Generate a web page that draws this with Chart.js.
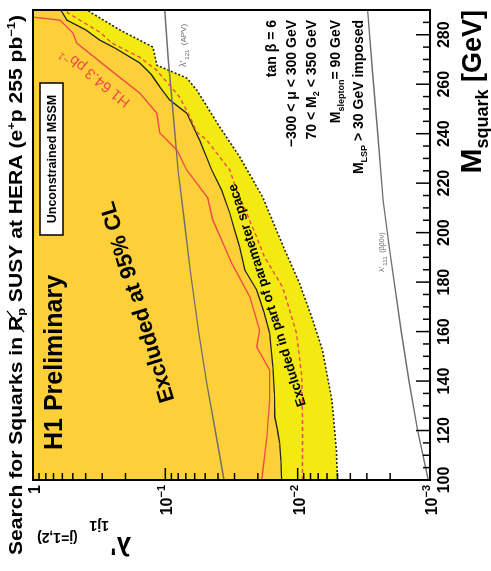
<!DOCTYPE html>
<html>
<head>
<meta charset="utf-8">
<script src="https://cdn.jsdelivr.net/npm/chart.js@4.4.1/dist/chart.umd.min.js"></script>
<style>
  html, body { margin: 0; padding: 0; background: #fff; overflow: hidden; }
  #wrap { position: relative; width: 491px; height: 571px; }
  /* the plot is drawn upright, then turned a quarter turn like the scan */
  #chart { position: absolute; left: 0; top: 0; transform-origin: 0 0; transform: translate(0, 571px) rotate(-90deg); }
</style>
</head>
<body>
<div id="wrap"><canvas id="chart" width="571" height="491"></canvas></div>
<script>
// squark mass axis (GeV) and lambda' axis
const massTicks = [100, 120, 140, 160, 180, 200, 220, 240, 260, 280];
const lambdaTicks = [0.001, 0.01, 0.1, 1];
const lambdaTickLabels = [['10', '−3'], ['10', '−2'], ['10', '−1'], ['1', '']];

// excluded in part of parameter space (dotted edge of yellow band)
const partialMass = [100, 112, 132, 152.5, 164.7, 179.6, 194.2, 214.4, 230.6, 242.7, 257.6, 262.5, 267.7, 275, 281.9, 289.2, 290];
const partialLambda = [0.0050, 0.0051, 0.0055, 0.0065, 0.0077, 0.0097, 0.0128, 0.0184, 0.0274, 0.0388, 0.0578, 0.0689, 0.116, 0.124, 0.220, 0.371, 0.384];

// excluded at 95% CL for the whole scan (solid black edge of orange)
const fullMass = [100, 108, 115, 120, 125.5, 135, 145.7, 152, 159.4, 168, 176.8, 184.9, 194.2, 201, 207.9, 217.2, 225.3, 237.4, 248.3, 253.6, 258.9, 264, 268.6, 274.6, 277.8, 282, 285.9, 289.2, 290];
const fullLambda = [0.0132, 0.0134, 0.0137, 0.0142, 0.0149, 0.0150, 0.0154, 0.0158, 0.0163, 0.0180, 0.0204, 0.0251, 0.0274, 0.0299, 0.0326, 0.0375, 0.0446, 0.055, 0.0689, 0.0925, 0.110, 0.128, 0.156, 0.240, 0.312, 0.40, 0.554, 0.604, 0.62];

// red dashed
const expMass = [100, 125.5, 141.6, 159.4, 178, 190.1, 198.2, 207.9, 217.2, 225.3, 237.4, 240.7, 246.7, 254.8, 265.6, 270.9, 276.6, 281, 288.8, 290];
const expLambda = [0.0092, 0.0092, 0.0093, 0.0102, 0.0130, 0.0178, 0.0204, 0.0243, 0.0289, 0.0326, 0.0486, 0.058, 0.065, 0.078, 0.116, 0.156, 0.253, 0.312, 0.545, 0.56];

// H1 64.3 pb-1 limit (red solid)
const oldMass = [100, 117.4, 132.3, 144.5, 153.8, 160.6, 174, 187.7, 197, 205.1, 214, 225.3, 233.4, 240.3, 248.3, 256.4, 266.9, 276.6, 280.7, 285.9, 287.1];
const oldLambda = [0.0187, 0.0171, 0.0163, 0.0163, 0.0204, 0.0194, 0.0230, 0.0315, 0.0375, 0.0438, 0.0478, 0.0689, 0.0819, 0.110, 0.116, 0.156, 0.277, 0.466, 0.499, 0.625, 1.0];

// indirect limits (grey)
const apvMass = [100, 120, 140, 160, 185, 205, 225, 250, 270, 290];
const apvLambda = [0.036, 0.042, 0.049, 0.056, 0.065, 0.072, 0.080, 0.088, 0.095, 0.101];
const bbMass = [100, 120, 140, 160, 193, 213, 240, 265, 290];
const bbLambda = [0.00103, 0.00124, 0.00144, 0.00165, 0.00202, 0.00226, 0.00248, 0.00272, 0.00296];

const pts = (ms, ls) => ms.map((m, i) => ({ x: m, y: ls[i] }));

// draws a row of text pieces: [text, size, dy, weight, colour]
// fit: optional width the row is stretched to
function rich(ctx, parts, x, y, angle, align, colour, fit) {
    ctx.save();
    ctx.translate(x, y);
    ctx.rotate(angle * Math.PI / 180);
    ctx.textAlign = 'left';
    ctx.textBaseline = 'alphabetic';
    const font = p => (p[3] || 'bold') + ' ' + p[1] + 'px "Liberation Sans", Arial, sans-serif';
    let w = 0;
    parts.forEach(p => { ctx.font = font(p); w += ctx.measureText(p[0]).width; });
    let sx = 1;
    if (fit) { sx = fit / w; ctx.scale(sx, 1); }
    let cx = align === 'right' ? -w : align === 'center' ? -w / 2 : 0;
    const spots = [];
    parts.forEach(p => {
        ctx.font = font(p);
        ctx.fillStyle = p[4] || colour || '#000';
        ctx.fillText(p[0], cx, p[2] || 0);
        const pw = ctx.measureText(p[0]).width;
        spots.push({ x: cx * sx, w: pw * sx });
        cx += pw;
    });
    ctx.restore();
    return spots;
}

const decor = {
    id: 'decor',
    afterDatasetsDraw(chart) {
        const { ctx, chartArea: a, scales: { x, y } } = chart;
        ctx.save();
        ctx.strokeStyle = '#000';
        ctx.lineWidth = 1.5;

        // mass ticks, pointing in
        for (let m = 100; m < 290; m += 5) {
            const px = x.getPixelForValue(m);
            const len = massTicks.includes(m) ? 14 : 7;
            ctx.beginPath(); ctx.moveTo(px, a.bottom); ctx.lineTo(px, a.bottom - len); ctx.stroke();
        }
        // lambda ticks, pointing in
        lambdaTicks.forEach((d, i) => {
            const py = y.getPixelForValue(d);
            ctx.beginPath(); ctx.moveTo(a.left, py); ctx.lineTo(a.left + 12, py); ctx.stroke();
            if (i < lambdaTicks.length - 1) {
                for (let k = 2; k <= 9; k++) {
                    const pk = y.getPixelForValue(k * d);
                    ctx.beginPath(); ctx.moveTo(a.left, pk); ctx.lineTo(a.left + 7, pk); ctx.stroke();
                }
            }
        });
        ctx.lineWidth = 2;
        ctx.strokeRect(a.left, a.top, a.right - a.left, a.bottom - a.top);

        // tick labels
        ctx.fillStyle = '#000';
        ctx.font = 'bold 16px "Liberation Sans", Arial, sans-serif';
        ctx.textAlign = 'center';
        massTicks.forEach(m => ctx.fillText(String(m), x.getPixelForValue(m), a.bottom + 19));
        lambdaTicks.forEach((d, i) => {
            const [base, sup] = lambdaTickLabels[i];
            rich(ctx, [[base, 16, 0], [sup, 11, -7]], a.left - 5, y.getPixelForValue(d) + 7, 0, 'right');
        });

        // axis titles
        rich(ctx, [['M', 30, 0], ['squark', 18, 7], [' [GeV]', 27, 0]], a.right, 481, 0, 'right');
        rich(ctx, [["λ'", 26, 0], [' ', 5, 0], ['1j1', 14, 16], ['   ', 14, 0], ['(j=1,2)', 14, 4]], 34, 131, -90, 'left');

        // title
        const t = rich(ctx, [['Search for Squarks in ', 18, 0], ['R', 18, 0], ['p', 11, 3], [' SUSY at HERA (e', 18, 0], ['+', 11, -7], ['p 255 pb', 18, 0], ['−1', 11, -7], [')', 18, 0]], 286, 22, 0, 'center', null, 540);
        ctx.lineWidth = 1.3;
        ctx.beginPath();
        ctx.moveTo(286 + t[1].x - 1, 24); ctx.lineTo(286 + t[1].x + t[1].w + 5, 7);
        ctx.stroke();

        // annotations
        rich(ctx, [['H1 Preliminary', 25, 0]], 121, 62, 0, 'left');
        ctx.lineWidth = 1.5;
        ctx.fillStyle = '#fff';
        ctx.fillRect(336, 40, 152, 23);
        ctx.strokeRect(336, 40, 152, 23);
        rich(ctx, [['Unconstrained MSSM', 12.5, 0]], 412, 56, 0, 'center');
        rich(ctx, [['Excluded at 95% CL', 22, 0]], 271, 144, -17, 'center');
        rich(ctx, [['Excluded in part of parameter space', 13.5, 0]], 277, 271, -17.5, 'center');
        rich(ctx, [['H1 64.3 pb', 15, 0, 'normal'], ['−1', 10, -6, 'normal']], 497, 98, -51, 'center', '#f04b4b');
        rich(ctx, [["λ'", 9, 0, 'normal'], [' ', 4, 0], ['121', 6, 3, 'normal'], ['  (APV)', 8, 0, 'normal']], 504, 186, 0, 'left', '#6e6e6e');
        rich(ctx, [["λ'", 8, 0, 'normal'], [' ', 3, 0], ['111', 6, 3, 'normal'], ['  (ββ0ν)', 7, 0, 'normal']], 299, 384, 0, 'left', '#6e6e6e');

        // parameter block
        rich(ctx, [['tan β = 6', 14, 0]], 551, 276, 0, 'right');
        rich(ctx, [['−300 < μ < 300 GeV', 14, 0]], 551, 296, 0, 'right');
        rich(ctx, [['70 < M', 14, 0], ['2', 9, 3], [' < 350 GeV', 14, 0]], 551, 316, 0, 'right');
        rich(ctx, [['M', 14, 0], ['slepton', 9, 4], ['= 90 GeV', 14, 0]], 551, 340, 0, 'right');
        rich(ctx, [['M', 14, 0], ['LSP', 9, 4], [' > 30 GeV imposed', 14, 0]], 551, 363, 0, 'right');
        ctx.restore();
    }
};

new Chart(document.getElementById('chart'), {
    type: 'scatter',
    data: {
        datasets: [
            { data: pts(oldMass, oldLambda), showLine: true, borderColor: '#f04b4b', borderWidth: 1.4, pointRadius: 0, fill: false, order: 1 },
            { data: pts(expMass, expLambda), showLine: true, borderColor: '#f04b4b', borderWidth: 1.4, borderDash: [4, 3], pointRadius: 0, fill: false, order: 2 },
            { data: pts(apvMass, apvLambda), showLine: true, borderColor: '#6e6e6e', borderWidth: 1.4, pointRadius: 0, fill: false, order: 3 },
            { data: pts(bbMass, bbLambda), showLine: true, borderColor: '#6e6e6e', borderWidth: 1.4, pointRadius: 0, fill: false, order: 3 },
            { data: pts(fullMass, fullLambda), showLine: true, borderColor: '#222', borderWidth: 1.3, backgroundColor: '#fdd03a', pointRadius: 0, fill: 'end', order: 5 },
            { data: pts(partialMass, partialLambda), showLine: true, borderColor: '#222', borderWidth: 1.6, borderDash: [2, 2], backgroundColor: '#f2ea10', pointRadius: 0, fill: 'end', order: 6 }
        ]
    },
    options: {
        responsive: false,
        animation: false,
        devicePixelRatio: 1,
        layout: { padding: { left: 0, top: 33, right: 10, bottom: 0 } },
        plugins: { legend: { display: false }, tooltip: { enabled: false } },
        scales: {
            x: {
                type: 'linear', min: 100, max: 290,
                ticks: { display: false }, grid: { display: false }, border: { display: false },
                afterFit: s => { s.height = 61; }
            },
            y: {
                type: 'logarithmic', min: 0.001, max: 1,
                ticks: { display: false }, grid: { display: false }, border: { display: false },
                afterFit: s => { s.width = 91; }
            }
        }
    },
    plugins: [decor]
});
</script>
</body>
</html>
